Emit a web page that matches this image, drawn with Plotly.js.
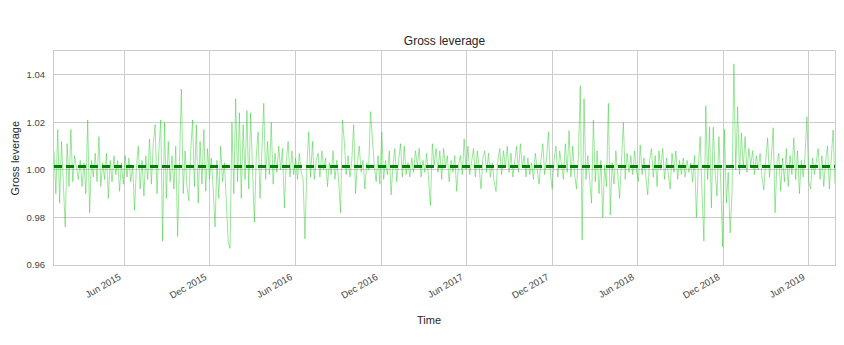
<!DOCTYPE html>
<html>
<head>
<meta charset="utf-8">
<script src="https://cdn.plot.ly/plotly-3.0.1.min.js"></script>
<style>
  html, body { margin: 0; padding: 0; background: #fff; }
  #plot { width: 844px; height: 345px; }
</style>
</head>
<body>
<div id="plot"></div>
<script>
// gross leverage, one reading every 4 days starting 2015-01-02
var startDate = '2015-01-02';
var stepDays = 4;

var lev2015 = [1.008, 0.990, 1.017, 0.986, 1.012, 0.995, 0.976, 1.011, 0.993, 1.017, 0.995, 1.006,
  1.000, 0.996, 1.004, 0.993, 1.003, 0.990, 1.021, 0.982, 1.004, 0.997, 1.007, 0.995, 1.014, 0.993,
  1.003, 0.996, 1.007, 0.988, 1.004, 0.995, 1.006, 0.998, 1.004, 0.991, 1.003, 0.994, 1.006, 0.997,
  1.005, 0.995, 1.002, 0.983, 1.001, 1.010, 0.992, 1.004, 0.989, 1.006, 0.996, 1.013, 0.994, 1.011,
  1.019, 0.990, 1.008, 1.021, 0.970, 1.020, 0.988, 1.012, 0.995, 1.006, 0.992, 1.010, 0.972, 1.003,
  1.034, 0.990, 1.008, 0.993, 0.987, 1.008, 1.021, 0.993, 1.019, 0.986, 1.012, 0.994, 1.017, 0.991,
  1.009, 0.996, 1.005, 0.992, 0.976, 1.004, 0.988, 1.010, 0.995];

var lev2016 = [1.003, 0.983, 0.970, 0.967, 1.020, 0.990, 1.030, 0.995, 1.024, 0.988, 1.019, 0.996,
  1.025, 0.992, 1.024, 1.000, 0.978, 1.006, 1.016, 0.988, 1.010, 1.028, 0.996, 1.012, 0.998, 1.020,
  0.994, 1.007, 0.999, 1.010, 1.000, 1.009, 0.984, 1.003, 1.012, 0.997, 1.008, 0.998, 1.005, 0.996,
  1.007, 0.999, 0.996, 0.971, 1.001, 1.016, 0.997, 1.012, 0.996, 1.004, 1.007, 0.997, 1.008, 1.000,
  1.005, 0.993, 1.003, 0.998, 1.008, 0.996, 1.004, 0.995, 0.982, 1.021, 1.012, 0.998, 1.006, 0.997,
  1.004, 1.019, 0.990, 1.003, 1.010, 0.999, 1.004, 0.992, 1.003, 1.000, 1.0245, 1.012, 1.002, 0.995,
  1.006, 0.994, 1.016, 0.996, 1.004, 0.998, 1.008, 0.9895, 1.002, 1.009];

var lev2017 = [0.995, 1.004, 1.011, 0.997, 1.010, 0.998, 1.003, 0.997, 1.005, 0.999, 1.008, 1.002,
  1.009, 0.997, 1.004, 0.999, 1.007, 0.996, 0.985, 1.011, 1.002, 1.009, 0.999, 1.008, 0.996, 1.009,
  1.001, 1.006, 0.995, 1.004, 0.999, 1.006, 0.991, 1.002, 1.006, 0.998, 1.013, 1.000, 1.010, 0.998,
  1.004, 1.009, 0.997, 1.008, 1.001, 0.992, 1.005, 1.008, 0.999, 1.007, 0.997, 1.003, 0.995, 0.991,
  1.004, 1.009, 0.998, 1.008, 1.001, 1.010, 0.999, 1.007, 0.997, 1.004, 1.010, 0.999, 1.011, 1.001,
  1.006, 0.997, 1.005, 0.998, 1.003, 0.996, 1.007, 1.000, 0.994, 1.004, 1.011, 0.998, 1.005, 1.016,
  0.999, 0.992, 1.004, 1.010, 0.997, 1.008, 1.002, 0.996, 1.011];

var lev2018 = [0.999, 1.0165, 0.997, 1.010, 0.998, 0.992, 1.006, 1.0354, 0.9705, 1.030, 0.996, 1.006,
  0.994, 0.986, 1.021, 0.995, 1.008, 0.990, 1.004, 0.980, 1.002, 0.993, 1.028, 0.981, 1.003, 0.994,
  1.008, 0.997, 0.988, 1.004, 1.020, 0.996, 1.007, 0.999, 1.006, 0.998, 1.008, 1.000, 0.995, 1.0105,
  0.998, 1.005, 0.996, 0.9895, 1.004, 1.009, 0.997, 1.006, 0.993, 1.008, 1.000, 1.009, 0.996, 1.005,
  0.998, 0.992, 1.007, 0.999, 1.008, 0.996, 1.004, 0.998, 1.005, 0.997, 1.004, 0.999, 1.003, 0.995,
  1.006, 0.980, 1.001, 1.014, 0.990, 0.970, 1.027, 0.996, 1.018, 0.984, 1.018, 0.999, 0.989, 1.014,
  0.995, 0.9676, 1.017, 0.986, 0.999, 0.9735, 0.990, 1.0446, 1.000];

var lev2019 = [1.0266, 0.998, 1.0156, 1.001, 1.014, 0.999, 1.009, 1.002, 1.008, 0.998, 1.006, 1.000,
  1.007, 0.997, 0.9916, 1.004, 1.0135, 0.997, 1.005, 1.0177, 0.982, 1.003, 1.007, 0.991, 1.005, 0.995,
  1.009, 0.993, 1.006, 0.998, 1.0135, 0.996, 1.008, 0.990, 1.004, 0.997, 1.006, 1.0223, 0.995, 0.992,
  1.005, 0.998, 1.004, 1.009, 0.996, 1.006, 0.993, 1.004, 1.010, 0.992, 1.005, 1.0168, 0.994];

var meanLev = 1.0014;

var yTicks = [0.96, 0.98, 1.00, 1.02, 1.04];
var xTickVals = ['2015-06-01', '2015-12-01', '2016-06-01', '2016-12-01', '2017-06-01',
  '2017-12-01', '2018-06-01', '2018-12-01', '2019-06-01'];
var xTickText = ['Jun 2015', 'Dec 2015', 'Jun 2016', 'Dec 2016', 'Jun 2017',
  'Dec 2017', 'Jun 2018', 'Dec 2018', 'Jun 2019'];

var lev = [].concat(lev2015, lev2016, lev2017, lev2018, lev2019);

// date index, like pandas date_range
function makeDates(start, n, step) {
  var t0 = Date.parse(start + 'T00:00:00Z');
  var out = [];
  for (var i = 0; i < n; i++) {
    out.push(new Date(t0 + i * step * 86400000).toISOString().slice(0, 10));
  }
  return out;
}

var dates = makeDates(startDate, lev.length, stepDays);
var first = dates[0], last = dates[dates.length - 1];

var levTrace = {
  x: dates, y: lev, mode: 'lines', hoverinfo: 'skip',
  line: {color: 'rgba(50,205,50,0.7)', width: 0.7}
};
var meanTrace = {
  x: [first, last], y: [meanLev, meanLev], mode: 'lines', hoverinfo: 'skip',
  line: {color: '#008000', width: 3, dash: '8px,4px'}
};

var font = {family: '"Liberation Sans", Arial, sans-serif', color: '#262626'};

var layout = {
  width: 844, height: 345,
  margin: {l: 54, r: 9, t: 51, b: 80},
  paper_bgcolor: '#fff', plot_bgcolor: '#fff',
  showlegend: false,
  font: font,
  title: {text: 'Gross leverage', font: {size: 12, color: '#262626'},
    x: 0.5, xref: 'paper', y: 1 - 41 / 345, yanchor: 'middle'},
  xaxis: {
    type: 'date', range: [first, last],
    tickvals: xTickVals, ticktext: xTickText, tickangle: -30,
    tickfont: {size: 9.5, color: '#444'}, ticklabelstandoff: 2, ticklabelshift: -5,
    showgrid: true, gridcolor: '#cccccc', gridwidth: 1,
    showline: true, linecolor: '#cccccc', linewidth: 1, mirror: true,
    zeroline: false, ticks: ''
  },
  yaxis: {
    range: [0.96, 1.05], tickvals: yTicks, tickformat: '.2f',
    tickfont: {size: 9.5, color: '#444'}, ticklabelstandoff: 6,
    showgrid: true, gridcolor: '#cccccc', gridwidth: 1,
    showline: true, linecolor: '#cccccc', linewidth: 1, mirror: true,
    zeroline: false, ticks: ''
  },
  annotations: [
    {text: 'Time', xref: 'paper', yref: 'paper', x: 0.48, y: -0.257,
      xanchor: 'center', yanchor: 'middle', showarrow: false,
      font: {size: 11, color: '#262626'}},
    {text: 'Gross leverage', xref: 'paper', yref: 'paper', x: -0.0493, y: 0.5,
      xanchor: 'center', yanchor: 'middle', textangle: -90, showarrow: false,
      font: {size: 11, color: '#262626'}}
  ]
};

Plotly.newPlot('plot', [levTrace, meanTrace], layout, {staticPlot: true, displayModeBar: false});
</script>
</body>
</html>
